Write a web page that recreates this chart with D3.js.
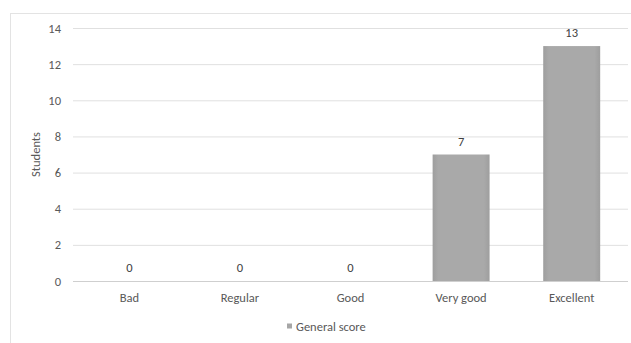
<!DOCTYPE html>
<html><head><meta charset="utf-8">
<script src="https://cdn.jsdelivr.net/npm/d3@7"></script>
<style>
body{margin:0;background:#fff;}
text{font-family:Carlito,Lato,"Open Sans","Liberation Sans",sans-serif;}
</style></head>
<body><svg id="c" width="631" height="343"></svg>
<script>
const categories = ["Bad","Regular","Good","Very good","Excellent"];
const values = [0,0,0,7,13];
const yTicks = [0,2,4,6,8,10,12,14];
const seriesName = "General score";
const yLabel = "Students";

const svg = d3.select("#c");
const W = 631, H = 343;
const m = {l:74, r:4, t:28, b:62};
const FS = "12.5px";
const x = d3.scaleBand().domain(categories).range([m.l, W-m.r]).paddingInner(0.485).paddingOuter(0.2425);
const y = d3.scaleLinear().domain([0,14]).range([H-m.b, m.t]);

const defs = svg.append("defs");
const g = defs.append("linearGradient").attr("id","bg").attr("x1",0).attr("x2",1).attr("y1",0).attr("y2",0);
g.append("stop").attr("offset","0%").attr("stop-color","#9e9e9e");
g.append("stop").attr("offset","10%").attr("stop-color","#a9a9a9");
g.append("stop").attr("offset","90%").attr("stop-color","#a9a9a9");
g.append("stop").attr("offset","100%").attr("stop-color","#9e9e9e");

// frame
svg.append("rect").attr("x",10.5).attr("y",13.5).attr("width",W).attr("height",H)
  .attr("fill","none").attr("stroke","#e3e3e3").attr("stroke-width",1);

// grid
const yAxis = d3.axisLeft(y).tickValues(yTicks).tickSize(-(W-m.r-m.l+2)).tickPadding(12);
const ga = svg.append("g").attr("transform",`translate(${m.l-1},0)`).call(yAxis);
ga.select(".domain").remove();
ga.selectAll(".tick line").attr("stroke","#e0e0e0");
ga.selectAll(".tick").filter(d=>d===0).select("line").attr("stroke","#cfcfcf");
ga.selectAll(".tick text").attr("fill","#595959").attr("font-size",FS);

// x axis labels
const xa = d3.axisBottom(x).tickSize(0).tickPadding(12);
const gx = svg.append("g").attr("transform",`translate(0,${H-m.b})`).call(xa);
gx.select(".domain").remove();
gx.selectAll(".tick text").attr("fill","#595959").attr("font-size",FS);

// bars
svg.selectAll(".bar").data(values).join("rect").attr("class","bar")
  .attr("x",(d,i)=>x(categories[i])).attr("width",x.bandwidth())
  .attr("y",d=>y(d)).attr("height",d=>y(0)-y(d)).attr("fill","url(#bg)");

// value labels
svg.selectAll(".vl").data(values).join("text").attr("class","vl")
  .attr("x",(d,i)=>x(categories[i])+x.bandwidth()/2).attr("y",d=>y(d)-9)
  .attr("text-anchor","middle").attr("fill","#404040").attr("font-size",FS).text(d=>d);

// y label
svg.append("text").attr("transform",`translate(40,${(y(0)+y(14))/2}) rotate(-90)`)
  .attr("text-anchor","middle").attr("fill","#595959").attr("font-size",FS).text(yLabel);

// legend
svg.append("rect").attr("x",287).attr("y",323.5).attr("width",5).attr("height",5).attr("fill","#a6a6a6");
svg.append("text").attr("x",296).attr("y",331).attr("fill","#595959").attr("font-size",FS).text(seriesName);
</script></body></html>
